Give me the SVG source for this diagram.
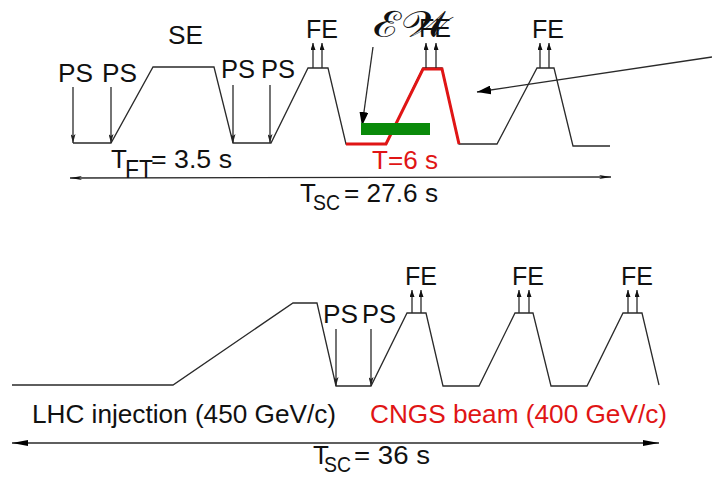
<svg xmlns="http://www.w3.org/2000/svg" width="712" height="477" viewBox="0 0 712 477">
<style>
.ln{fill:none;stroke:#2a2a2a;stroke-width:1.3;stroke-linejoin:miter}
.red{fill:none;stroke:#e01515;stroke-width:3;stroke-linejoin:miter}
.t{font-family:"Liberation Sans",Arial,sans-serif;font-size:26px;fill:#111}
.r{fill:#e01515}
.sub{font-size:22px}
</style>
<defs>
<marker id="sm" viewBox="0 0 7 5" markerWidth="7" markerHeight="5" refX="7" refY="2.5" orient="auto" markerUnits="userSpaceOnUse"><path d="M0,0 L7,2.5 L0,5 z" fill="#111"/></marker>
<marker id="ps" viewBox="0 0 9 5" markerWidth="9" markerHeight="5" refX="9" refY="2.5" orient="auto" markerUnits="userSpaceOnUse"><path d="M0,0 L9,2.5 L0,5 L2,2.5 z" fill="#222"/></marker>
<marker id="big" viewBox="0 0 14 9" markerWidth="14" markerHeight="9" refX="14" refY="4.5" orient="auto" markerUnits="userSpaceOnUse"><path d="M0,0 L14,4.5 L0,9 z" fill="#000"/></marker>
<marker id="dbl" viewBox="0 0 16 6" markerWidth="16" markerHeight="6" refX="16" refY="3" orient="auto-start-reverse" markerUnits="userSpaceOnUse"><path d="M0,0 L16,3 L0,6 z" fill="#000"/></marker>
<marker id="thin" viewBox="0 0 12 4" markerWidth="12" markerHeight="4" refX="12" refY="2" orient="auto-start-reverse" markerUnits="userSpaceOnUse"><path d="M0,0 L12,2 L0,4 L3,2 z" fill="#111"/></marker>
</defs>

<g id="connectors">
<path class="ln" d="M73,143 H111 L153,67 H214 L233,143 H271 L308,68 H328 L346,144 H386 L423,68 H442 L459,144 H497 L537,68 H554 L573,146 H610"/>
<path class="red" d="M346,144 H386 L423,69 H442 L459,144"/>
<path class="ln" d="M12,385 H173 L293,303 H317 L336,386 H371 L407,313 H426 L443,386 H479 L515,313 H533 L551,386 H587 L623,313 H642 L659,385"/>
<g class="ln" marker-end="url(#ps)">
<line x1="73" y1="87" x2="73" y2="143"/>
<line x1="111" y1="87" x2="111" y2="143"/>
<line x1="233" y1="85" x2="233" y2="143"/>
<line x1="270" y1="85" x2="270" y2="143"/>
<line x1="336" y1="329" x2="336" y2="386"/>
<line x1="371" y1="329" x2="371" y2="386"/>
</g>
<g class="ln" marker-end="url(#sm)">
<line x1="313" y1="68" x2="313" y2="43"/>
<line x1="322" y1="68" x2="322" y2="43"/>
<line x1="426" y1="68" x2="426" y2="43"/>
<line x1="436" y1="68" x2="436" y2="43"/>
<line x1="540" y1="68" x2="540" y2="43"/>
<line x1="549" y1="68" x2="549" y2="43"/>
<line x1="412" y1="313" x2="412" y2="290"/>
<line x1="421" y1="313" x2="421" y2="290"/>
<line x1="519" y1="313" x2="519" y2="290"/>
<line x1="529" y1="313" x2="529" y2="290"/>
<line x1="628" y1="313" x2="628" y2="290"/>
<line x1="637" y1="313" x2="637" y2="290"/>
</g>
<line class="ln" x1="373" y1="47" x2="362" y2="126" marker-end="url(#big)"/>
<line class="ln" x1="712" y1="57" x2="477" y2="92" marker-end="url(#big)"/>
<line class="ln" x1="70" y1="178" x2="611" y2="177" marker-start="url(#thin)" marker-end="url(#thin)"/>
<line class="ln" x1="12" y1="443" x2="659" y2="443" marker-start="url(#dbl)" marker-end="url(#dbl)"/>
</g>

<g id="green-bar"><rect x="361" y="123" width="69" height="12" fill="#0a8a0a"/></g>

<g id="labels-top">
<text class="t" x="168" y="44" textLength="35" lengthAdjust="spacingAndGlyphs">SE</text>
<text class="t" x="58" y="82" textLength="35" lengthAdjust="spacingAndGlyphs">PS</text>
<text class="t" x="102" y="82" textLength="35" lengthAdjust="spacingAndGlyphs">PS</text>
<text class="t" x="221" y="78" textLength="34" lengthAdjust="spacingAndGlyphs">PS</text>
<text class="t" x="261" y="78" textLength="34" lengthAdjust="spacingAndGlyphs">PS</text>
<text class="t" x="306" y="38" textLength="32" lengthAdjust="spacingAndGlyphs">FE</text>
<text class="t" x="419" y="37" textLength="32" lengthAdjust="spacingAndGlyphs">FE</text>
<text class="t" x="532" y="38" textLength="32" lengthAdjust="spacingAndGlyphs">FE</text>
<text x="373" y="37" font-family="'DejaVu Serif','Noto Sans',serif" font-size="36" fill="#111" textLength="78" lengthAdjust="spacingAndGlyphs">ℰ𝒲</text>
<text class="t" x="111" y="168">T</text>
<text class="t" x="125" y="178" textLength="28" lengthAdjust="spacingAndGlyphs">FT</text>
<text class="t" x="151" y="168" textLength="81" lengthAdjust="spacingAndGlyphs">= 3.5 s</text>
<text class="t r" x="372" y="169" textLength="66" lengthAdjust="spacingAndGlyphs">T=6 s</text>
<text class="t" x="300" y="202">T</text>
<text class="t sub" x="313" y="210" textLength="27" lengthAdjust="spacingAndGlyphs">SC</text>
<text class="t" x="344" y="202" textLength="94" lengthAdjust="spacingAndGlyphs">= 27.6 s</text>
</g>

<g id="labels-bottom">
<text class="t" x="323" y="323" textLength="35" lengthAdjust="spacingAndGlyphs">PS</text>
<text class="t" x="362" y="323" textLength="34" lengthAdjust="spacingAndGlyphs">PS</text>
<text class="t" x="405" y="285" textLength="32" lengthAdjust="spacingAndGlyphs">FE</text>
<text class="t" x="512" y="285" textLength="32" lengthAdjust="spacingAndGlyphs">FE</text>
<text class="t" x="621" y="285" textLength="32" lengthAdjust="spacingAndGlyphs">FE</text>
<text class="t" x="32" y="423" textLength="304" lengthAdjust="spacingAndGlyphs">LHC injection (450 GeV/c)</text>
<text class="t r" x="370" y="423" textLength="297" lengthAdjust="spacingAndGlyphs">CNGS beam (400 GeV/c)</text>
<text class="t" x="313" y="464">T</text>
<text class="t sub" x="324" y="472" textLength="27" lengthAdjust="spacingAndGlyphs">SC</text>
<text class="t" x="354" y="464" textLength="76" lengthAdjust="spacingAndGlyphs">= 36 s</text>
</g>
</svg>
